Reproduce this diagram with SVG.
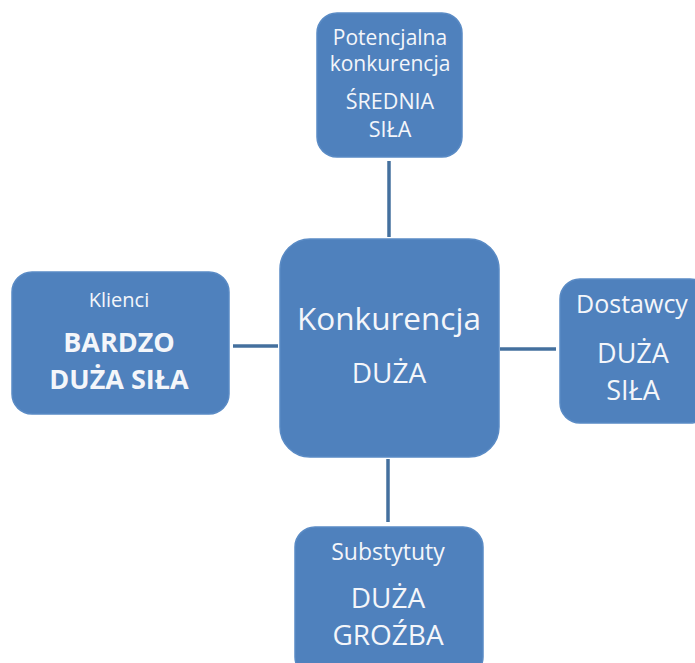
<svg xmlns="http://www.w3.org/2000/svg" width="695" height="663" viewBox="0 0 695 663">
<style>
.box{fill:#4f81bd;stroke:#5a8bc5;stroke-width:1.5}
.t{font-family:"Open Sans","Noto Sans",sans-serif;fill:#f4f6fa;text-anchor:middle}
.b{font-weight:bold}
.c{stroke:#44709e;stroke-width:3.5;fill:none}
</style>
<rect width="695" height="663" fill="#ffffff"/>
<g id="connectors">
<line class="c" x1="389" y1="161" x2="389" y2="237"/>
<line class="c" x1="233" y1="346" x2="278" y2="346"/>
<line class="c" x1="500" y1="349" x2="556" y2="349"/>
<line class="c" x1="388" y1="459" x2="388" y2="522"/>
</g>
<g id="potencjalna">
<rect class="box" x="317" y="13" width="145" height="144" rx="20"/>
<text class="t" x="390" y="45" font-size="21">Potencjalna</text>
<text class="t" x="390" y="71" font-size="21">konkurencja</text>
<text class="t" x="390" y="109" font-size="21.5">ŚREDNIA</text>
<text class="t" x="390" y="137" font-size="21.5">SIŁA</text>
</g>
<g id="klienci">
<rect class="box" x="12" y="272" width="217" height="142" rx="20"/>
<text class="t" x="119" y="307" font-size="20">Klienci</text>
<text class="t b" x="119" y="352" font-size="27">BARDZO</text>
<text class="t b" x="119" y="389" font-size="27">DUŻA SIŁA</text>
</g>
<g id="konkurencja">
<rect class="box" x="280" y="239" width="219" height="218" rx="30"/>
<text class="t" x="389" y="330" font-size="31.5">Konkurencja</text>
<text class="t" x="389" y="383" font-size="28">DUŻA</text>
</g>
<g id="dostawcy">
<rect class="box" x="560" y="279" width="150" height="144" rx="20"/>
<text class="t" x="632" y="313" font-size="25">Dostawcy</text>
<text class="t" x="633" y="363" font-size="27">DUŻA</text>
<text class="t" x="633" y="400" font-size="27">SIŁA</text>
</g>
<g id="substytuty">
<rect class="box" x="295" y="527" width="188" height="150" rx="20"/>
<text class="t" x="388" y="560" font-size="23">Substytuty</text>
<text class="t" x="388" y="608" font-size="28">DUŻA</text>
<text class="t" x="388" y="645" font-size="28">GROŹBA</text>
</g>
</svg>
